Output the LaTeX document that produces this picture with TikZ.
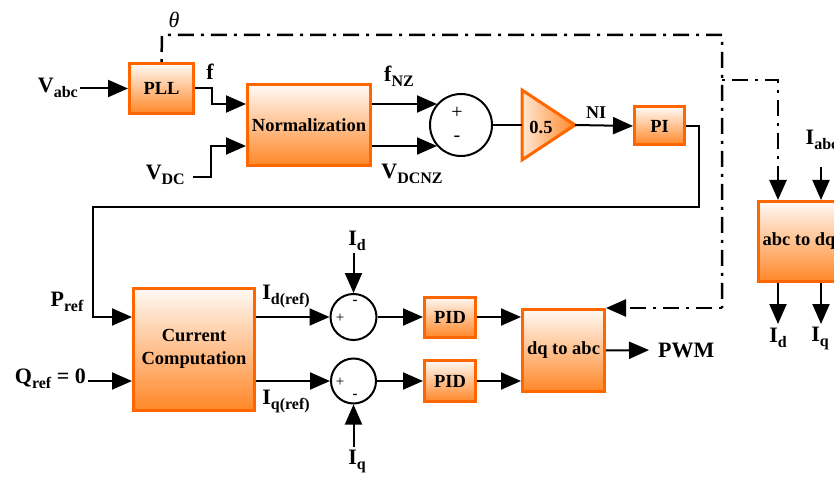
\documentclass[tikz,border=0pt]{standalone}
\usepackage{fontspec}
\setmainfont{Liberation Serif}
\usetikzlibrary{arrows.meta,calc}
\definecolor{bord}{RGB}{255,102,0}
\definecolor{fillbot}{RGB}{255,135,40}
\definecolor{filltop}{RGB}{255,250,245}
\definecolor{trileft}{RGB}{255,232,212}
\newcommand\bxfont{\fontsize{18.5}{21}\selectfont\bfseries}
\newcommand\lblfont{\fontsize{22}{24}\selectfont\bfseries}
\newcommand\sbs[1]{\raisebox{-5pt}{\fontsize{16}{16}\selectfont\bfseries #1}}
\tikzset{
  blk/.style={draw=bord, line width=3pt, top color=filltop, bottom color=fillbot,
    font=\bxfont, align=center, inner sep=0pt},
  lbl/.style={font=\lblfont, inner sep=2pt},
  sumc/.style={circle, draw=black, line width=2pt, fill=white, inner sep=0pt},
  tip/.style={-{Triangle[length=20pt,width=17pt]}},
  arr/.style={line width=2pt, tip},
  wire/.style={line width=2pt},
  dd/.style={line width=2.5pt, dash pattern=on 3pt off 7pt on 16pt off 7pt},
  sgn/.style={inner sep=0pt, font=\fontsize{20}{20}\selectfont},
  ssgn/.style={inner sep=0pt, font=\fontsize{15}{15}\selectfont},
}
\begin{document}
\begin{tikzpicture}[x=1pt,y=-1pt]
\useasboundingbox (0,0) rectangle (834,478);
\clip (0,0) rectangle (834,478);

% blocks
\node[blk, minimum width=64pt, minimum height=50pt] (pll) at (161.5,88.5) {PLL};
\node[blk, minimum width=123pt, minimum height=81pt] (norm) at (309,125) {Normalization};
\node[sumc, minimum size=62pt] (sum1) at (461,125) {};
\node[sgn] at (457,113) {+};
\node[sgn] at (457,139) {-};
\coordinate (gin) at (522,125);
\coordinate (gout) at (575,125);
\path[draw=bord, line width=3pt, left color=trileft, right color=fillbot]
  (522,90) -- (gout) -- (522,160) -- cycle;
\node[font=\bxfont, inner sep=0pt] (gain) at (541,127) {0.5};
\node[blk, minimum width=50pt, minimum height=38pt] (pi) at (659.5,126) {PI};

\node[blk, minimum width=121pt, minimum height=122pt] (cc) at (194,349) {Current\\[2pt]Computation};
\node[sumc, minimum size=46pt] (sum2) at (353.5,317) {};
\node[sumc, minimum size=45pt] (sum3) at (353.5,381) {};
\node[ssgn] at (340,318) {+};
\node[ssgn, font=\fontsize{15}{15}\selectfont\bfseries] at (355,302) {-};
\node[ssgn] at (340,382) {+};
\node[ssgn, font=\fontsize{15}{15}\selectfont\bfseries] at (355,396) {-};
\node[blk, minimum width=51pt, minimum height=40pt] (pid1) at (450,317) {PID};
\node[blk, minimum width=51pt, minimum height=41pt] (pid2) at (450,381) {PID};
\node[blk, minimum width=82pt, minimum height=82pt] (dq) at (563.5,350.5) {dq to abc};
\node[blk, minimum width=82pt, minimum height=80pt] (abcdq) at (799,241.5) {abc to dq};

% labels
\node[lbl, anchor=east] (vabc) at (80,88) {V\sbs{abc}};
\node[lbl] (flbl) at (210,72) {f};
\node[lbl, anchor=east] (vdc) at (187,175) {V\sbs{DC}};
\node[lbl] (fnz) at (399,76) {f\sbs{NZ}};
\node[lbl] (vdcnz) at (412,174) {V\sbs{DCNZ}};
\node[font=\fontsize{18}{18}\selectfont\bfseries, inner sep=0pt] (ni) at (596,113) {NI};
\node[font=\fontsize{22}{22}\selectfont\itshape, inner sep=0pt] (theta) at (174,20) {θ};
\node[lbl] (pref) at (67,302) {P\sbs{ref}};
\node[lbl, anchor=east] (qref) at (88,379) {Q\sbs{ref} = 0};
\node[lbl] (idref) at (286,296) {I\sbs{d(ref)}};
\node[lbl] (iqref) at (286,401) {I\sbs{q(ref)}};
\node[lbl] (id1) at (357,241) {I\sbs{d}};
\node[lbl] (iq1) at (357,461) {I\sbs{q}};
\node[lbl, anchor=west] (pwm) at (656,350) {PWM};
\node[lbl] (iabc) at (822,140) {I\sbs{abc}};
\node[lbl] (id2) at (778,338) {I\sbs{d}};
\node[lbl] (iq2) at (820,338) {I\sbs{q}};

% bend coordinates
\coordinate (b1) at (699,126);
\coordinate (b2) at (699,207);
\coordinate (b3) at (93,207);
\coordinate (b4) at (93,317);
\coordinate (t1) at (162,35);
\coordinate (t2) at (722,35);
\coordinate (t3) at (722,308);
\coordinate (br) at (722,80);
\coordinate (br2) at (778,80);

% connectors
\draw[arr] (vabc.east |- pll.west) -- (pll.west);
\draw[arr] (pll.east) -- (212,88.5) |- ($(norm.west)+(0,-21)$);
\draw[arr] ($(vdc.east)+(6,2)$) -- (211,177) |- ($(norm.west)+(0,21)$);
\draw[arr] ($(norm.east)+(0,-21)$) -- ($(sum1.center)+(-24,-21)$);
\draw[arr] ($(norm.east)+(0,21)$) -- ($(sum1.center)+(-24,21)$);
\draw[wire] (sum1.east) -- (gin);
\draw[arr] (gout) -- (pi.west);
\draw[arr] (pi.east) -- (b1) -- (b2) -- (b3) -- (b4) -- (cc.west |- b4);
\draw[arr] (qref.east |- 0,381) -- (cc.west |- 0,381);
\draw[arr] (cc.east |- sum2) -- (sum2.west);
\draw[arr] (cc.east |- sum3) -- (sum3.west);
\draw[arr] (sum2.north |- id1.south) -- (sum2.north);
\draw[arr] (sum3.south |- iq1.north) -- (sum3.south);
\draw[arr] (sum2.east) -- (pid1.west);
\draw[arr] (sum3.east) -- (pid2.west);
\draw[arr] (pid1.east) -- (dq.west |- pid1);
\draw[arr] (pid2.east) -- (dq.west |- pid2);
\draw[arr, shorten >=7pt] (dq.east) -- (pwm.west);
\draw[dd] (pll.north) -- (t1) -- (t2) -- (t3);
\draw[dd, tip] (t3) -- (dq.north east);
\draw[dd, tip] (br) -- (br2) -- (abcdq.north -| br2);
\draw[arr] ($(abcdq.north)+(22,-33)$) -- ($(abcdq.north)+(22,0)$);
\draw[arr] (abcdq.south -| br2) -- ($(abcdq.south -| br2)+(0,41)$);
\draw[arr] ($(abcdq.south)+(22,0)$) -- ($(abcdq.south)+(22,41)$);
\end{tikzpicture}
\end{document}
